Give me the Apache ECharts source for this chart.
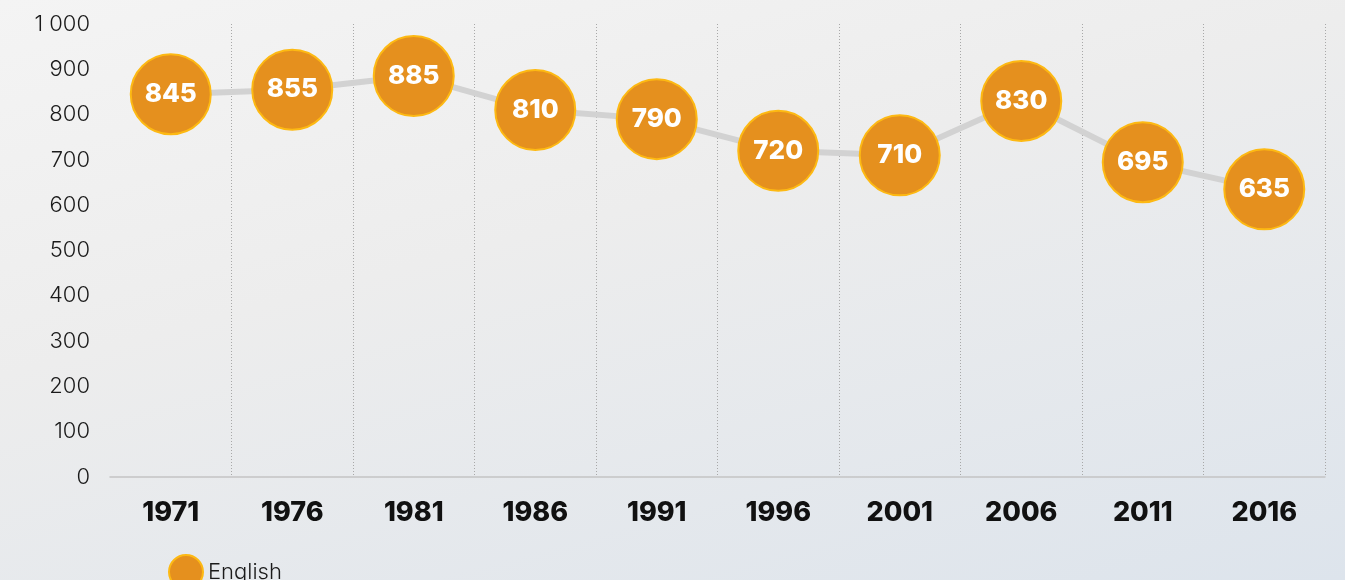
<!DOCTYPE html>
<html>
<head>
<meta charset="utf-8">
<script src="https://cdn.jsdelivr.net/npm/echarts@6/dist/echarts.min.js"></script>
<style>
  html, body { margin: 0; padding: 0; }
  body {
    width: 1345px; height: 580px; overflow: hidden;
    background: linear-gradient(165deg, #f4f4f4 0%, #ededed 40%, #dde4ec 100%);
  }
  #chart { width: 1345px; height: 580px; }
</style>
</head>
<body>
<div id="chart"></div>
<script>
const years = ['1971', '1976', '1981', '1986', '1991', '1996', '2001', '2006', '2011', '2016']
const english = [845, 855, 885, 810, 790, 720, 710, 830, 695, 635]
const yTicks = { min: 0, max: 1000, interval: 100 }

const chart = echarts.init(document.getElementById('chart'))
chart.setOption({
  backgroundColor: 'transparent',
  animation: false,
  grid: { left: 110, right: 20, top: 24, bottom: 103 },
  legend: {
    data: ['English'],
    left: 163,
    top: 549,
    icon: 'circle',
    itemWidth: 34,
    itemHeight: 34,
    itemGap: 10,
    textStyle: { fontFamily: 'Inter', fontSize: 22, fontWeight: 300, color: '#1a1a1a' }
  },
  xAxis: {
    type: 'category',
    data: years,
    axisLine: { show: true, lineStyle: { color: '#c4c4c4', width: 1.5 } },
    axisTick: { show: false },
    axisLabel: {
      margin: 22,
      fontFamily: 'Inter',
      fontWeight: 800,
      fontSize: 27,
      color: '#111'
    },
    splitLine: {
      show: true,
      showMinLine: false,
      lineStyle: { color: '#a8a8a8', type: [1, 2], width: 1 }
    }
  },
  yAxis: {
    type: 'value',
    min: yTicks.min,
    max: yTicks.max,
    interval: yTicks.interval,
    axisLine: { show: false },
    axisTick: { show: false },
    splitLine: { show: false },
    axisLabel: {
      margin: 20,
      fontFamily: 'Inter',
      fontWeight: 300,
      fontSize: 22,
      color: '#1a1a1a',
      formatter: v => v >= 1000 ? String(v).replace(/(\d)(?=(\d{3})$)/, '$1 ') : String(v)
    }
  },
  series: [
    {
      name: 'English',
      type: 'line',
      data: english,
      symbol: 'circle',
      symbolSize: 80,
      lineStyle: { color: '#d2d2d2', width: 6 },
      itemStyle: { color: '#e5901e', borderColor: '#fdb913', borderWidth: 2 },
      label: {
        show: true,
        position: 'inside',
        color: '#fff',
        fontFamily: 'Inter',
        fontWeight: 800,
        fontSize: 26
      },
      z: 3
    }
  ]
})
</script>
</body>
</html>
